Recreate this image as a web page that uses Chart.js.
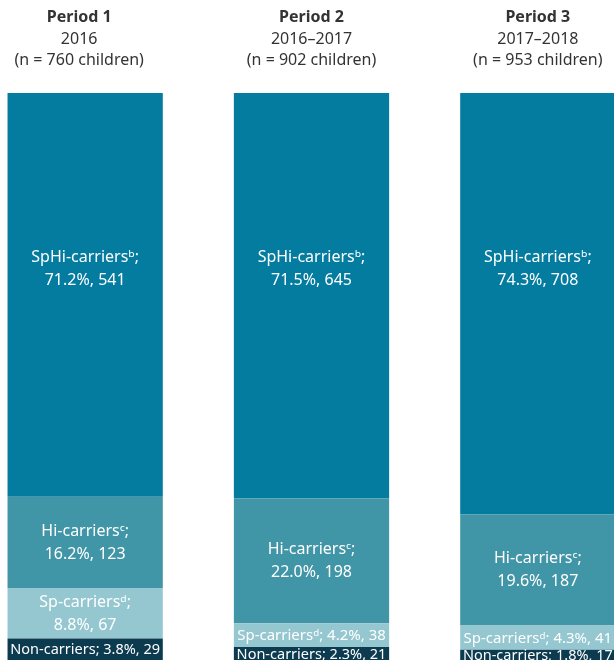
<!DOCTYPE html>
<html>
<head>
<meta charset="utf-8">
<script src="https://cdn.jsdelivr.net/npm/chart.js@4/dist/chart.umd.min.js"></script>
<style>
  html, body { margin: 0; padding: 0; background: #fff; overflow: hidden; }
  #wrap { position: absolute; left: -28px; top: 0; width: 679px; height: 660px; }
</style>
</head>
<body>
<div id="wrap"><canvas id="chart"></canvas></div>
<script>
  // ── Data ───────────────────────────────────────────────
  const periods   = ['Period 1', 'Period 2', 'Period 3'];
  const years     = ['2016', '2016–2017', '2017–2018'];
  const nChildren = [760, 902, 953];

  const groupNames = ['Non-carriers', 'Sp-carriersᵈ', 'Hi-carriersᶜ', 'SpHi-carriersᵇ'];
  const nonPct  = [3.8, 2.3, 1.8];
  const nonN    = [29, 21, 17];
  const spPct   = [8.8, 4.2, 4.3];
  const spN     = [67, 38, 41];
  const hiPct   = [16.2, 22.0, 19.6];
  const hiN     = [123, 198, 187];
  const spHiPct = [71.2, 71.5, 74.3];
  const spHiN   = [541, 645, 708];

  const COLORS = ['#0c3b50', '#95c7d1', '#4095a6', '#037ca0'];
  const FONT = "'Noto Sans', sans-serif";
  const fmt = v => v.toFixed(1) + '%';

  const pctSets = [nonPct, spPct, hiPct, spHiPct];
  const countSets = [nonN, spN, hiN, spHiN];

  // Segment labels + period headers
  const labelPlugin = {
    id: 'segLabels',
    afterDatasetsDraw(chart) {
      const ctx = chart.ctx;
      const xs = chart.scales.x;
      ctx.save();
      ctx.textAlign = 'center';
      ctx.textBaseline = 'middle';

      // headers
      periods.forEach((p, i) => {
        const cx = xs.getPixelForValue(i) - (i === 0 ? 6 : 0);
        ctx.fillStyle = '#333333';
        ctx.font = 'bold 16px ' + FONT;
        ctx.fillText(p, cx, 17);
        ctx.font = '16px ' + FONT;
        ctx.fillText(years[i], cx, 39);
        ctx.fillText('(n = ' + nChildren[i] + ' children)', cx, 60);
      });

      // segment texts
      ctx.fillStyle = '#ffffff';
      chart.data.datasets.forEach((ds, d) => {
        const meta = chart.getDatasetMeta(d);
        meta.data.forEach((bar, i) => {
          const top = Math.min(bar.y, bar.base);
          const h = Math.abs(bar.base - bar.y);
          const first = groupNames[d] + ';';
          const second = fmt(pctSets[d][i]) + ', ' + countSets[d][i];
          let cy = top + h / 2;
          if (d === 3) cy = chart.scales.y.getPixelForValue(69);
          let size = 16;
          ctx.font = size + 'px ' + FONT;
          if (h > 40) {
            ctx.fillText(first, bar.x, cy - 11.5);
            ctx.fillText(second, bar.x, cy + 11.5);
          } else {
            const line = first + ' ' + second;
            while (ctx.measureText(line).width > bar.width - 2 && size > 9) {
              size -= 0.5;
              ctx.font = size + 'px ' + FONT;
            }
            ctx.fillText(line, bar.x, cy + 1);
          }
        });
      });
      ctx.restore();
    }
  };

  new Chart(document.getElementById('chart'), {
    type: 'bar',
    data: {
      labels: periods,
      datasets: pctSets.map((data, d) => ({
        label: groupNames[d],
        data,
        backgroundColor: COLORS[d],
        borderWidth: 0,
        barPercentage: 0.686,
        categoryPercentage: 1
      }))
    },
    options: {
      responsive: true,
      maintainAspectRatio: false,
      animation: false,
      layout: { padding: { top: 93, bottom: 0, left: 0, right: 0 } },
      scales: {
        x: { stacked: true, display: false },
        y: { stacked: true, display: false, min: 0, max: 100 }
      },
      plugins: {
        legend: { display: false },
        tooltip: { enabled: false }
      }
    },
    plugins: [labelPlugin]
  });
</script>
</body>
</html>
